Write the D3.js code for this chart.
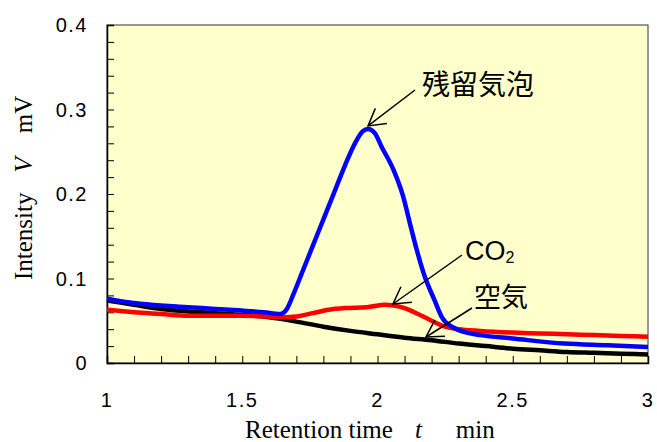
<!DOCTYPE html>
<html>
<head>
<meta charset="utf-8">
<script src="https://cdn.jsdelivr.net/npm/d3@7"></script>
<style>
  body { margin: 0; background: #fff; }
</style>
</head>
<body>
<svg width="657" height="442"></svg>
<script>
// retention time (min) / intensity (mV)
const bubbleT = [1.00, 1.05, 1.10, 1.20, 1.30, 1.40, 1.50, 1.58, 1.64, 1.665, 1.69, 1.72, 1.76, 1.80, 1.84, 1.88, 1.92, 1.945, 1.965, 1.99, 2.015, 2.06, 2.095, 2.12, 2.145, 2.175, 2.21, 2.24, 2.28, 2.33, 2.38, 2.50, 2.69, 2.85, 3.00];
const bubbleV = [0.076, 0.073, 0.071, 0.068, 0.066, 0.064, 0.062, 0.060, 0.058, 0.064, 0.082, 0.106, 0.138, 0.170, 0.202, 0.234, 0.262, 0.274, 0.277, 0.272, 0.256, 0.228, 0.197, 0.165, 0.134, 0.102, 0.075, 0.053, 0.042, 0.036, 0.033, 0.029, 0.023, 0.021, 0.019];

const co2T = [1.00, 1.10, 1.20, 1.30, 1.40, 1.50, 1.60, 1.66, 1.70, 1.76, 1.82, 1.88, 1.96, 2.03, 2.06, 2.10, 2.15, 2.20, 2.25, 2.30, 2.38, 2.50, 2.60, 2.70, 2.80, 2.90, 3.00];
const co2V = [0.063, 0.060, 0.058, 0.056, 0.056, 0.056, 0.055, 0.054, 0.055, 0.059, 0.063, 0.065, 0.066, 0.069, 0.068, 0.065, 0.058, 0.050, 0.043, 0.040, 0.038, 0.036, 0.035, 0.034, 0.033, 0.032, 0.031];

const airT = [1.00, 1.10, 1.20, 1.30, 1.40, 1.50, 1.60, 1.70, 1.80, 1.90, 2.00, 2.10, 2.20, 2.30, 2.40, 2.50, 2.60, 2.70, 2.80, 2.90, 3.00];
const airV = [0.074, 0.069, 0.064, 0.061, 0.059, 0.057, 0.054, 0.049, 0.043, 0.038, 0.034, 0.030, 0.027, 0.023, 0.020, 0.017, 0.015, 0.013, 0.012, 0.011, 0.010];

const xTicks = [1, 1.5, 2, 2.5, 3];
const yTicks = [0, 0.1, 0.2, 0.3, 0.4];

const svg = d3.select('svg');

const x = d3.scaleLinear().domain([1, 3]).range([107, 648]);
const y = d3.scaleLinear().domain([0, 0.4]).range([363, 25]);

// plot background
svg.append('rect')
  .attr('x', x(1)).attr('y', y(0.4))
  .attr('width', x(3) - x(1)).attr('height', y(0) - y(0.4))
  .attr('fill', '#ffffcc')
  .attr('stroke', '#333').attr('stroke-width', 1);

// inward ticks
const xAxis = d3.axisBottom(x).tickValues(d3.range(1, 3.001, 0.1)).tickSize(-7).tickFormat('');
svg.append('g').attr('transform', `translate(0,${y(0)})`).call(xAxis)
  .call(g => g.select('.domain').attr('stroke', '#000').attr('stroke-width', 1.5));

const yAxis = d3.axisLeft(y).tickValues(d3.range(0, 0.4001, 0.02)).tickSize(-7).tickFormat('');
svg.append('g').attr('transform', `translate(${x(1)},0)`).call(yAxis)
  .call(g => g.select('.domain').attr('stroke', '#000').attr('stroke-width', 1.5));

// tick labels
svg.append('g').selectAll('text').data(xTicks).join('text')
  .attr('x', d => x(d)).attr('y', 407)
  .attr('text-anchor', 'middle')
  .attr('font-family', 'Liberation Sans, Arial, sans-serif')
  .attr('font-size', 20).attr('letter-spacing', 1.5)
  .text(d => d);

svg.append('g').selectAll('text').data(yTicks).join('text')
  .attr('x', 88).attr('y', d => y(d) + 7)
  .attr('text-anchor', 'end')
  .attr('font-family', 'Liberation Sans, Arial, sans-serif')
  .attr('font-size', 20).attr('letter-spacing', 1.5)
  .text(d => d);

// axis titles
const xTitle = svg.append('text')
  .attr('x', 245).attr('y', 438)
  .attr('font-family', 'Liberation Serif, Times New Roman, serif')
  .attr('font-size', 25);
xTitle.append('tspan').text('Retention time');
xTitle.append('tspan').attr('dx', 22).attr('font-style', 'italic').text('t');
xTitle.append('tspan').attr('dx', 34).text('min');

const yTitle = svg.append('text')
  .attr('transform', 'translate(32,280) rotate(-90)')
  .attr('font-family', 'Liberation Serif, Times New Roman, serif')
  .attr('font-size', 25);
yTitle.append('tspan').text('Intensity');
yTitle.append('tspan').attr('dx', 20).attr('font-style', 'italic').text('V');
yTitle.append('tspan').attr('dx', 24).text('mV');

// series
const line = d3.line().x(d => x(d[0])).y(d => y(d[1])).curve(d3.curveMonotoneX);
const series = [
  { t: airT, v: airV, color: '#000000' },
  { t: co2T, v: co2V, color: '#ff0000' },
  { t: bubbleT, v: bubbleV, color: '#0000ff' }
];
series.forEach(s => {
  svg.append('path')
    .datum(d3.zip(s.t, s.v))
    .attr('d', line)
    .attr('fill', 'none')
    .attr('stroke', s.color)
    .attr('stroke-width', 4.5)
    .attr('stroke-linejoin', 'round');
});

// annotations with open arrows
function arrow(x1, y1, tx, ty) {
  const g = svg.append('g').attr('stroke', '#000').attr('stroke-width', 1.5).attr('fill', 'none');
  g.append('line').attr('x1', x1).attr('y1', y1).attr('x2', tx).attr('y2', ty);
  const a = Math.atan2(y1 - ty, x1 - tx);
  const len = 19, spread = Math.PI / 6;
  const head = [[tx + len * Math.cos(a - spread), ty + len * Math.sin(a - spread)], [tx, ty],
                [tx + len * Math.cos(a + spread), ty + len * Math.sin(a + spread)]];
  g.append('path').attr('d', d3.line()(head));
}

arrow(415, 90, x(1.965), y(0.277) - 3);
arrow(462, 255, 393, 304);
arrow(472, 308, 426, 337);

const jp = 'Noto Sans CJK JP, sans-serif';
svg.append('text').attr('x', 422).attr('y', 95)
  .attr('font-family', jp).attr('font-size', 28).text('残留気泡');

const co2Label = svg.append('text').attr('x', 465).attr('y', 260)
  .attr('font-family', 'Liberation Sans, Arial, sans-serif').attr('font-size', 27);
co2Label.append('tspan').text('CO');
co2Label.append('tspan').attr('font-size', 16).attr('dy', 3).text('2');

svg.append('text').attr('x', 474).attr('y', 307)
  .attr('font-family', jp).attr('font-size', 27).text('空気');
</script>
</body>
</html>
